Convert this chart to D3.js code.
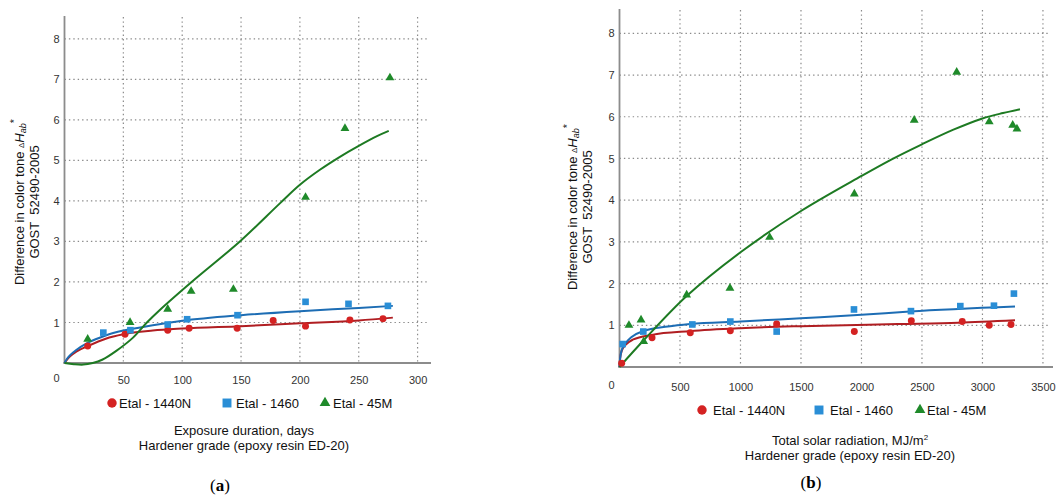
<!DOCTYPE html>
<html><head><meta charset="utf-8">
<script src="https://cdn.jsdelivr.net/npm/d3@7"></script>
<style>
body{margin:0;background:#fff;}
svg{display:block;font-family:"Liberation Sans",Arial,sans-serif;}
</style></head>
<body>
<svg id="chart" width="1058" height="498"></svg>
<script>
// ---------- DATA ----------
const seriesNames = ["Etal - 1440N", "Etal - 1460", "Etal - 45M"];

// Panel (a): exposure duration, days
const aTicksX = [50, 100, 150, 200, 250, 300];
const aTicksY = [1, 2, 3, 4, 5, 6, 7, 8];
const a1440N = [[19.7,0.42],[51.4,0.71],[87.7,0.81],[105.9,0.86],[146.7,0.86],[177.3,1.05],[204.8,0.91],[242.5,1.06],[270.6,1.09]];
const a1460  = [[33,0.75],[56,0.81],[87.7,0.95],[104.2,1.08],[147,1.18],[204.8,1.51],[241.3,1.46],[274.8,1.41]];
const a45M   = [[19.7,0.59],[55.7,1.0],[87.7,1.33],[107.6,1.77],[143.5,1.82],[204.8,4.09],[238.3,5.79],[276.5,7.04]];
const aTrend1440N = [[0,0],[2,0.08],[5,0.17],[10,0.28],[20,0.42],[35,0.6],[50,0.71],[75,0.8],[100,0.85],[150,0.91],[200,0.98],[250,1.05],[279,1.12]];
const aTrend1460  = [[0,0],[2,0.1],[5,0.2],[10,0.32],[20,0.5],[35,0.68],[50,0.8],[75,0.93],[100,1.04],[150,1.18],[200,1.28],[250,1.36],[279,1.41]];
const aTrend45M   = [[0,0],[8,-0.03],[16,-0.04],[24,0.0],[32,0.08],[44,0.3],[58,0.62],[70,1.0],[81,1.31],[108,2.0],[149,3.0],[183,3.94],[200,4.4],[217,4.77],[234,5.09],[250,5.36],[265.5,5.6],[275.5,5.73]];

// Panel (b): total solar radiation, MJ/m2
const bTicksX = [500, 1000, 1500, 2000, 2500, 3000, 3500];
const bTicksY = [1, 2, 3, 4, 5, 6, 7, 8];
const b1440N = [[18,0.09],[269,0.70],[585,0.82],[916,0.87],[1299,1.03],[1941,0.85],[2412,1.11],[2833,1.09],[3056,1.0],[3236,1.02]];
const b1460  = [[26,0.55],[197,0.85],[602,1.02],[916,1.09],[1299,0.85],[1938,1.38],[2409,1.34],[2817,1.46],[3095,1.47],[3260,1.76]];
const b45M   = [[78,1.0],[178,1.13],[200,0.61],[555,1.73],[913,1.89],[1241,3.11],[1941,4.15],[2436,5.92],[2787,7.07],[3056,5.88],[3250,5.8],[3285,5.71]];
const bTrend1440N = [[0,0],[5,0.2],[20,0.4],[50,0.53],[114,0.66],[266,0.77],[583,0.86],[1000,0.93],[1500,0.98],[2300,1.03],[2800,1.06],[3269,1.12]];
const bTrend1460  = [[0,0],[5,0.2],[20,0.42],[45,0.55],[100,0.72],[197,0.86],[400,0.97],[583,1.03],[1000,1.09],[1500,1.17],[2000,1.25],[2400,1.33],[3269,1.45]];
const bTrend45M   = [[0,0],[200,0.64],[555,1.7],[1000,2.75],[1500,3.74],[2000,4.58],[2250,4.98],[2500,5.34],[2760,5.69],[3000,5.96],[3170,6.09],[3310,6.18]];

// ---------- STYLE ----------
const markerColors = ["#d42222", "#2a8ed6", "#1f8a2a"];
const lineColors   = ["#b01e22", "#1d6db4", "#1d7a22"];
const symbols = [d3.symbolCircle, d3.symbolSquare, d3.symbolTriangle];
const symSizes = [38, 44, 34];
const legSizes = [70, 80, 50];

const svg = d3.select("#chart");

function panel(cfg) {
  const g = svg.append("g");
  const x = d3.scaleLinear().domain(cfg.xDomain).range(cfg.xRange);
  const y = d3.scaleLinear().domain(cfg.yDomain).range(cfg.yRange);

  // grid
  g.append("g").selectAll("line").data(cfg.ticksY).join("line")
    .attr("x1", cfg.xRange[0]).attr("x2", cfg.xRange[1])
    .attr("y1", d => y(d)).attr("y2", d => y(d))
    .attr("stroke", "#8a8a8a").attr("stroke-width", 1.2).attr("stroke-dasharray", "1.4,3");
  g.append("g").selectAll("line").data(cfg.ticksX).join("line")
    .attr("x1", d => x(d)).attr("x2", d => x(d))
    .attr("y1", cfg.yRange[1]).attr("y2", cfg.yRange[0])
    .attr("stroke", "#8a8a8a").attr("stroke-width", 1.2).attr("stroke-dasharray", "1.4,3");

  // axes lines
  g.append("line").attr("x1", cfg.xRange[0]).attr("x2", cfg.xRange[0])
    .attr("y1", cfg.yRange[1] - 1).attr("y2", cfg.yRange[0] + 1)
    .attr("stroke", "#8c8c8c").attr("stroke-width", 1.8);
  g.append("line").attr("x1", cfg.xRange[0] - 1).attr("x2", cfg.axisEnd)
    .attr("y1", cfg.yRange[0]).attr("y2", cfg.yRange[0])
    .attr("stroke", "#8c8c8c").attr("stroke-width", 1.8);

  // tick labels via axis generators
  const ax = g.append("g").attr("transform", `translate(0,${cfg.yRange[0]})`)
    .call(d3.axisBottom(x).tickValues(cfg.ticksX).tickFormat(d3.format("d")).tickSize(0).tickPadding(cfg.xPad));
  ax.select(".domain").remove();
  const ay = g.append("g").attr("transform", `translate(${cfg.xRange[0]},0)`)
    .call(d3.axisLeft(y).tickValues(cfg.ticksY).tickFormat(d3.format("d")).tickSize(0).tickPadding(cfg.yPad));
  ay.select(".domain").remove();
  g.selectAll(".tick text").attr("font-family", "Liberation Sans, Arial, sans-serif")
    .attr("font-size", 11).attr("fill", "#333");
  ay.selectAll(".tick text").attr("text-anchor", "middle");
  g.append("text").attr("x", cfg.xRange[0] - 8).attr("y", cfg.yRange[0] + cfg.xPad + 6)
    .attr("text-anchor", "middle").attr("font-size", 11).attr("fill", "#333").text("0");

  // trend curves
  const line = d3.line().x(d => x(d[0])).y(d => y(d[1])).curve(d3.curveMonotoneX);
  const smooth = d3.line().x(d => x(d[0])).y(d => y(d[1])).curve(d3.curveCatmullRom.alpha(0.5));
  cfg.trends.forEach((t, i) => {
    g.append("path").attr("d", (i === 2 ? smooth : line)(t)).attr("fill", "none")
      .attr("stroke", lineColors[i]).attr("stroke-width", 2);
  });

  // points
  cfg.points.forEach((pts, i) => {
    g.append("g").selectAll("path").data(pts).join("path")
      .attr("transform", d => `translate(${x(d[0])},${y(d[1])})`)
      .attr("d", d3.symbol().type(symbols[i]).size(symSizes[i]))
      .attr("fill", markerColors[i]);
  });

  // y title
  const yt = g.append("text").attr("transform", `translate(${cfg.yTitleX[0]},${cfg.yTitleY}) rotate(-90)`)
    .attr("text-anchor", "middle").attr("font-size", 13).attr("fill", "#111");
  yt.append("tspan").text("Difference in color tone ");
  yt.append("tspan").attr("font-size", 8).text("\u0394");
  yt.append("tspan").attr("font-style", "italic").text("H");
  yt.append("tspan").attr("font-style", "italic").attr("font-size", 9).attr("dy", 2).text("ab");
  yt.append("tspan").attr("font-size", 11).attr("dy", -8).text("*");
  g.append("text").attr("transform", `translate(${cfg.yTitleX[1]},${cfg.yTitleY}) rotate(-90)`)
    .attr("text-anchor", "middle").attr("font-size", 13).attr("fill", "#111")
    .attr("xml:space", "preserve").style("white-space", "pre").text("GOST  52490-2005");

  // legend
  cfg.legend.forEach((l, i) => {
    g.append("path").attr("transform", `translate(${l[0]},${cfg.legendY})`)
      .attr("d", d3.symbol().type(symbols[i]).size(legSizes[i])).attr("fill", markerColors[i]);
    g.append("text").attr("x", l[1]).attr("y", cfg.legendY + 4.5)
      .attr("font-size", 13).attr("fill", "#111").text(seriesNames[i]);
  });

  // x title
  const t1 = g.append("text").attr("x", cfg.titleX).attr("y", cfg.titleY)
    .attr("text-anchor", "middle").attr("font-size", 13).attr("fill", "#111");
  cfg.title1(t1);
  g.append("text").attr("x", cfg.titleX).attr("y", cfg.titleY + 15)
    .attr("text-anchor", "middle").attr("font-size", 13).attr("fill", "#111")
    .text("Hardener grade (epoxy resin ED-20)");

  // panel label
  const pl = g.append("text").attr("x", cfg.labelX).attr("y", cfg.labelY)
    .attr("text-anchor", "middle").attr("font-family", "Liberation Serif, Times New Roman, serif")
    .attr("font-size", 17).attr("fill", "#000");
  pl.append("tspan").text("(");
  pl.append("tspan").attr("font-weight", "bold").text(cfg.label);
  pl.append("tspan").text(")");
}

panel({
  xDomain: [0, 308], xRange: [64.5, 427], axisEnd: 431,
  yDomain: [0, 8.54], yRange: [363, 17],
  ticksX: aTicksX, ticksY: aTicksY, xPad: 13, yPad: 8,
  trends: [aTrend1440N, aTrend1460, aTrend45M],
  points: [a1440N, a1460, a45M],
  yTitleX: [24, 39], yTitleY: 202,
  legend: [[112, 119], [227, 236], [325, 333]], legendY: 403,
  titleX: 244, titleY: 434.5,
  title1: t => t.text("Exposure duration, days"),
  labelX: 220, labelY: 491, label: "a"
});

panel({
  xDomain: [0, 3550], xRange: [619.5, 1049], axisEnd: 1053,
  yDomain: [0, 8.56], yRange: [367, 10],
  ticksX: bTicksX, ticksY: bTicksY, xPad: 16, yPad: 8,
  trends: [bTrend1440N, bTrend1460, bTrend45M],
  points: [b1440N, b1460, b45M],
  yTitleX: [577, 592], yTitleY: 207,
  legend: [[702, 713], [819, 830], [920, 927]], legendY: 410,
  titleX: 850, titleY: 444.5,
  title1: t => { t.append("tspan").text("Total solar radiation, MJ/m"); t.append("tspan").attr("font-size", 8).attr("dy", -5).text("2"); },
  labelX: 811, labelY: 488, label: "b"
});
</script>
</body></html>
